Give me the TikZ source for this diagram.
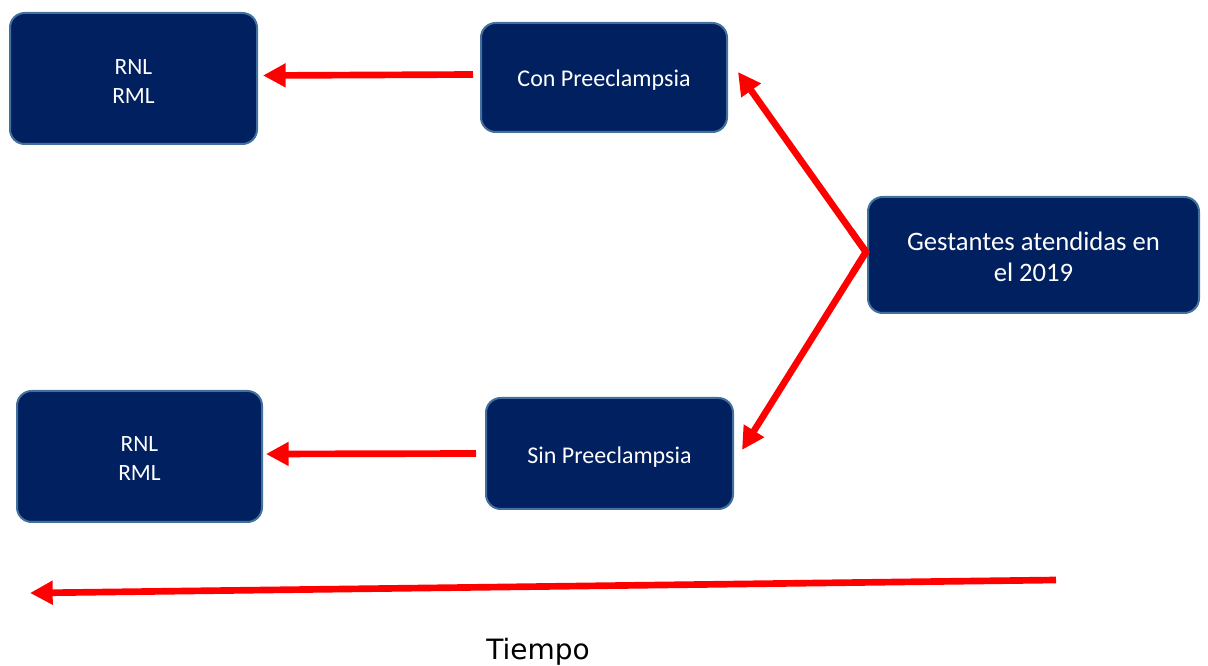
\documentclass[tikz,border=0pt]{standalone}
\usepackage{fontspec}
\newfontfamily\carlito{Carlito}
\newfontfamily\dejavu{DejaVu Sans}
\usetikzlibrary{arrows.meta,calc}
\definecolor{boxfill}{HTML}{012060}
\definecolor{boxline}{HTML}{41719C}
\definecolor{arrred}{HTML}{FF0000}
\newcommand{\lowtxt}[2][2.25pt]{\raisebox{-#1}[\height][\depth]{#2}}
\tikzset{
  box/.style={rectangle, rounded corners=11pt, fill=boxfill, draw=boxline, line width=1.5pt,
    text=white, align=center, inner sep=0pt},
  arr/.style={draw=arrred, line width=5pt, -{Triangle[length=17pt,width=17pt]}},
}
\begin{document}
\begin{tikzpicture}[x=0.75pt,y=-0.75pt]
\useasboundingbox (0,0) rectangle (1208,666);
\node[box, minimum width=185.25pt, minimum height=98.25pt, font=\carlito\fontsize{17.5pt}{21.75pt}\selectfont] (A) at (133.5,78.5) {\lowtxt{RNL}\\\lowtxt{RML}};
\node[box, minimum width=184.5pt, minimum height=81.75pt, font=\carlito\fontsize{18pt}{21.75pt}\selectfont] (B) at (604,77.5) {\lowtxt{Con Preeclampsia}};
\node[box, minimum width=248.25pt, minimum height=87pt, font=\carlito\fontsize{20pt}{23.25pt}\selectfont] (C) at (1033.5,255) {\lowtxt[1.25pt]{Gestantes atendidas en}\\\lowtxt[1.25pt]{el 2019}};
\node[box, minimum width=183.75pt, minimum height=98.25pt, font=\carlito\fontsize{17.5pt}{21.75pt}\selectfont] (D) at (139.5,456.5) {\lowtxt[1.75pt]{RNL}\\\lowtxt[1.75pt]{RML}};
\node[box, minimum width=185.25pt, minimum height=83.25pt, font=\carlito\fontsize{18pt}{21.75pt}\selectfont] (E) at (609.5,453.5) {\lowtxt[2.5pt]{Sin Preeclampsia}};
\node[font=\dejavu\fontsize{21pt}{25pt}\selectfont, inner sep=0pt] (T) at (538,651.5) {Tiempo};
\coordinate (v) at (866,252);
\coordinate (tb) at (738,72);
\coordinate (te) at (742,450);
\coordinate (t0) at (1056,580);
\coordinate (t1) at (30,593);
\draw[arr] ([shift={(-7,-3)}]B.west) -- ([shift={(5,-3)}]A.east);
\draw[arr] ([shift={(-9,0)}]E.west) -- ([shift={(3,-2.5)}]D.east);
\draw[arrred, line width=5pt, line join=miter] ($(v)!20pt!(tb)$) -- (v) -- ($(v)!20pt!(te)$);
\draw[arr] (v) -- (tb);
\draw[arr] (v) -- (te);
\draw[arr] (t0) -- (t1);
\end{tikzpicture}
\end{document}
